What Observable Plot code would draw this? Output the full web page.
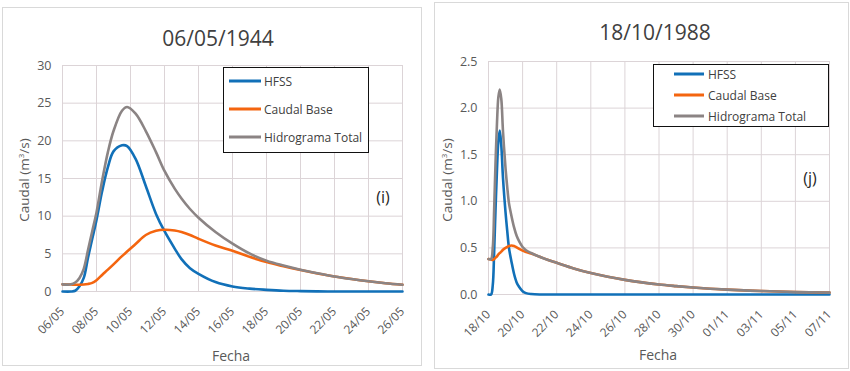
<!DOCTYPE html>
<html><head><meta charset="utf-8">
<script src="https://cdn.jsdelivr.net/npm/d3@7"></script>
<script src="https://cdn.jsdelivr.net/npm/@observablehq/plot@0.6"></script>
<style>
body{margin:0;background:#fff;font-family:"Open Sans",sans-serif;}
#wrap{position:relative;width:850px;height:371px;overflow:hidden;background:#fff}
.panel{position:absolute;border:1px solid #d9d9d9;box-sizing:border-box}
.plot{position:absolute}
.t{position:absolute;transform:translate(-50%,-50%);white-space:nowrap;color:#404040}
.title{font-size:21px}
.ylab{font-size:13.5px;color:#595959;transform:translate(-50%,-50%) rotate(-90deg)}
.xlab{font-size:14px;color:#595959}
.tag{font-size:16px;color:#262626}
.legend{position:absolute;border:1.2px solid #111;box-sizing:border-box;background:#fff}
.li{position:absolute;font-size:12px;color:#404040;white-space:nowrap;transform:translateY(-50%)}
.ln{position:absolute;height:3px;transform:translateY(-50%)}
</style></head>
<body><div id="wrap"></div>
<script>
// ---------- data: 06/05/1944 (days after 06/05) ----------
const daysA = [0,0.5,0.75,1,1.25,1.5,1.75,2,2.33,2.67,3,3.5,3.8,4.3,4.9,5.5,6,6.6,7,7.5,8,9,10,11,12,13,14,15,16,17,18,19,20];
const hfssA = [0,0,0.1,0.7,1.8,4.5,7.0,9.5,13.3,16.5,18.6,19.4,19.3,17.6,14.0,10.3,8.0,5.7,4.3,3.1,2.35,1.25,0.66,0.38,0.22,0.1,0.05,0.02,0,0,0,0,0];
const baseA = [0.95,0.92,0.9,0.9,0.92,1.0,1.15,1.5,2.2,2.9,3.6,4.7,5.3,6.3,7.5,8.05,8.2,8.1,7.9,7.5,7.0,6.1,5.4,4.6,3.9,3.35,2.85,2.4,2.0,1.65,1.35,1.1,0.9];
const totalA = [0.95,0.95,1.2,1.8,3.0,5.5,8.0,10.5,14.7,18.5,21.3,24.0,24.5,23.6,21.3,18.5,16.0,13.65,12.35,10.95,9.8,7.9,6.35,5.05,4.1,3.45,2.9,2.43,2.0,1.65,1.35,1.1,0.9];
const xLabelsA = ["06/05","08/05","10/05","12/05","14/05","16/05","18/05","20/05","22/05","24/05","26/05"];
const yTicksA = [0,5,10,15,20,25,30];

// ---------- data: 18/10/1988 (days after 18/10) ----------
const daysB = [0,0.15,0.25,0.33,0.41,0.5,0.58,0.66,0.75,0.85,1,1.1,1.2,1.35,1.5,1.65,1.8,2,2.2,2.5,3,3.5,4,5,6,7,8,9,10,11,12,13,14,16,18,20];
const hfssB = [0,0,0.1,0.45,0.9,1.35,1.65,1.76,1.6,1.25,0.88,0.68,0.5,0.35,0.22,0.13,0.08,0.035,0.015,0.005,0,0,0,0,0,0,0,0,0,0,0,0,0,0,0,0];
const baseB = [0.38,0.375,0.37,0.38,0.395,0.41,0.43,0.445,0.46,0.48,0.5,0.51,0.52,0.525,0.52,0.505,0.49,0.47,0.455,0.44,0.405,0.37,0.34,0.28,0.23,0.19,0.157,0.13,0.107,0.09,0.075,0.062,0.052,0.037,0.027,0.02];
const totalB = [0.38,0.38,0.5,0.9,1.4,1.85,2.12,2.2,2.1,1.75,1.35,1.15,0.98,0.84,0.72,0.63,0.57,0.51,0.475,0.445,0.405,0.37,0.34,0.28,0.23,0.19,0.157,0.13,0.107,0.09,0.075,0.062,0.052,0.037,0.027,0.02];
const xLabelsB = ["18/10","20/10","22/10","24/10","26/10","28/10","30/10","01/11","03/11","05/11","07/11"];
const yTicksB = [0,0.5,1.0,1.5,2.0,2.5];

const seriesNames = ["HFSS","Caudal Base","Hidrograma Total"];
const colors = ["#1170b8","#f4650f","#8b8484"];

const wrap = document.getElementById("wrap");
function el(cls, css, text){const d=document.createElement("div");d.className=cls;Object.assign(d.style,css);if(text!=null)d.textContent=text;wrap.appendChild(d);return d;}

function panel(cfg){
  el("panel",{left:cfg.box[0]+"px",top:cfg.box[1]+"px",width:cfg.box[2]+"px",height:cfg.box[3]+"px"});
  const xt = cfg.labels.map((_,i)=>i*2);
  const mk = (vals)=>cfg.days.map((d,i)=>({d, v: vals[i]}));
  const lineOpts = (i)=>({x:"d", y:"v", stroke:colors[i], strokeWidth:2.6, curve:"catmull-rom"});
  const svg = Plot.plot({
    width: cfg.w, height: cfg.h,
    marginLeft: cfg.ml, marginRight: cfg.mr, marginTop: cfg.mt, marginBottom: cfg.mb,
    x: {domain:[0,20]},
    y: {domain:[0, cfg.yTicks[cfg.yTicks.length-1]]},
    style: {fontFamily:"Open Sans", fontSize:"12px", color:"#595959", background:"transparent", overflow:"visible"},
    marks: [
      Plot.gridX(xt, {stroke:"#dcd4d7", strokeOpacity:1, strokeWidth:1}),
      Plot.gridY(cfg.yTicks, {stroke:"#dcd4d7", strokeOpacity:1, strokeWidth:1}),
      Plot.axisX(xt, {tickSize:0, tickPadding:18, tickRotate:-45, tickFormat: d => cfg.labels[Math.round(d/2)], label:null, fontSize:12}),
      Plot.axisY(cfg.yTicks, {tickSize:0, tickPadding:11, tickFormat: cfg.yFmt, label:null, fontSize:12.5}),
      Plot.lineY(mk(cfg.s[0]), lineOpts(0)),
      Plot.lineY(mk(cfg.s[1]), lineOpts(1)),
      Plot.lineY(mk(cfg.s[2]), lineOpts(2))
    ]
  });
  svg.classList.add("plot");
  svg.style.left = cfg.sx+"px"; svg.style.top = cfg.sy+"px";
  wrap.appendChild(svg);
  el("t title",{left:cfg.title[1]+"px",top:cfg.title[2]+"px"},cfg.title[0]);
  el("t ylab",{left:cfg.ylab[0]+"px",top:cfg.ylab[1]+"px"}).innerHTML="Caudal (m<sup style='font-size:8px;vertical-align:5px;line-height:0'>3</sup>/s)";
  el("t xlab",{left:cfg.xlab[0]+"px",top:cfg.xlab[1]+"px"},"Fecha");
  el("t tag",{left:cfg.tag[1]+"px",top:cfg.tag[2]+"px"},cfg.tag[0]);
  const L = cfg.legend;
  el("legend",{left:L.box[0]+"px",top:L.box[1]+"px",width:L.box[2]+"px",height:L.box[3]+"px"});
  seriesNames.forEach((n,i)=>{
    el("ln",{left:L.lx+"px",top:L.ys[i]+"px",width:L.lw+"px",background:colors[i]});
    el("li",{left:L.tx+"px",top:L.ys[i]+"px"},n);
  });
}

panel({box:[2,7,420,359], sx:2, sy:7, w:419, h:359, ml:60, mr:19, mt:58, mb:75,
  days:daysA, s:[hfssA,baseA,totalA], labels:xLabelsA, yTicks:yTicksA, yFmt:d3.format("d"),
  title:["06/05/1944",218,38], ylab:[24,180], xlab:[231,355], tag:["(i)",383,197],
  legend:{box:[223,67,146,86], lx:229, lw:32, tx:264, ys:[81,109,137]}});

panel({box:[434,2,415,367], sx:434, sy:2, w:414, h:366, ml:54, mr:19, mt:59, mb:74,
  days:daysB, s:[hfssB,baseB,totalB], labels:xLabelsB, yTicks:yTicksB, yFmt:d3.format(".1f"),
  title:["18/10/1988",655,32], ylab:[447,180], xlab:[658,354], tag:["(j)",810,178],
  legend:{box:[653,64,176,63], lx:674, lw:30, tx:708, ys:[74,95,116]}});
</script></body></html>
